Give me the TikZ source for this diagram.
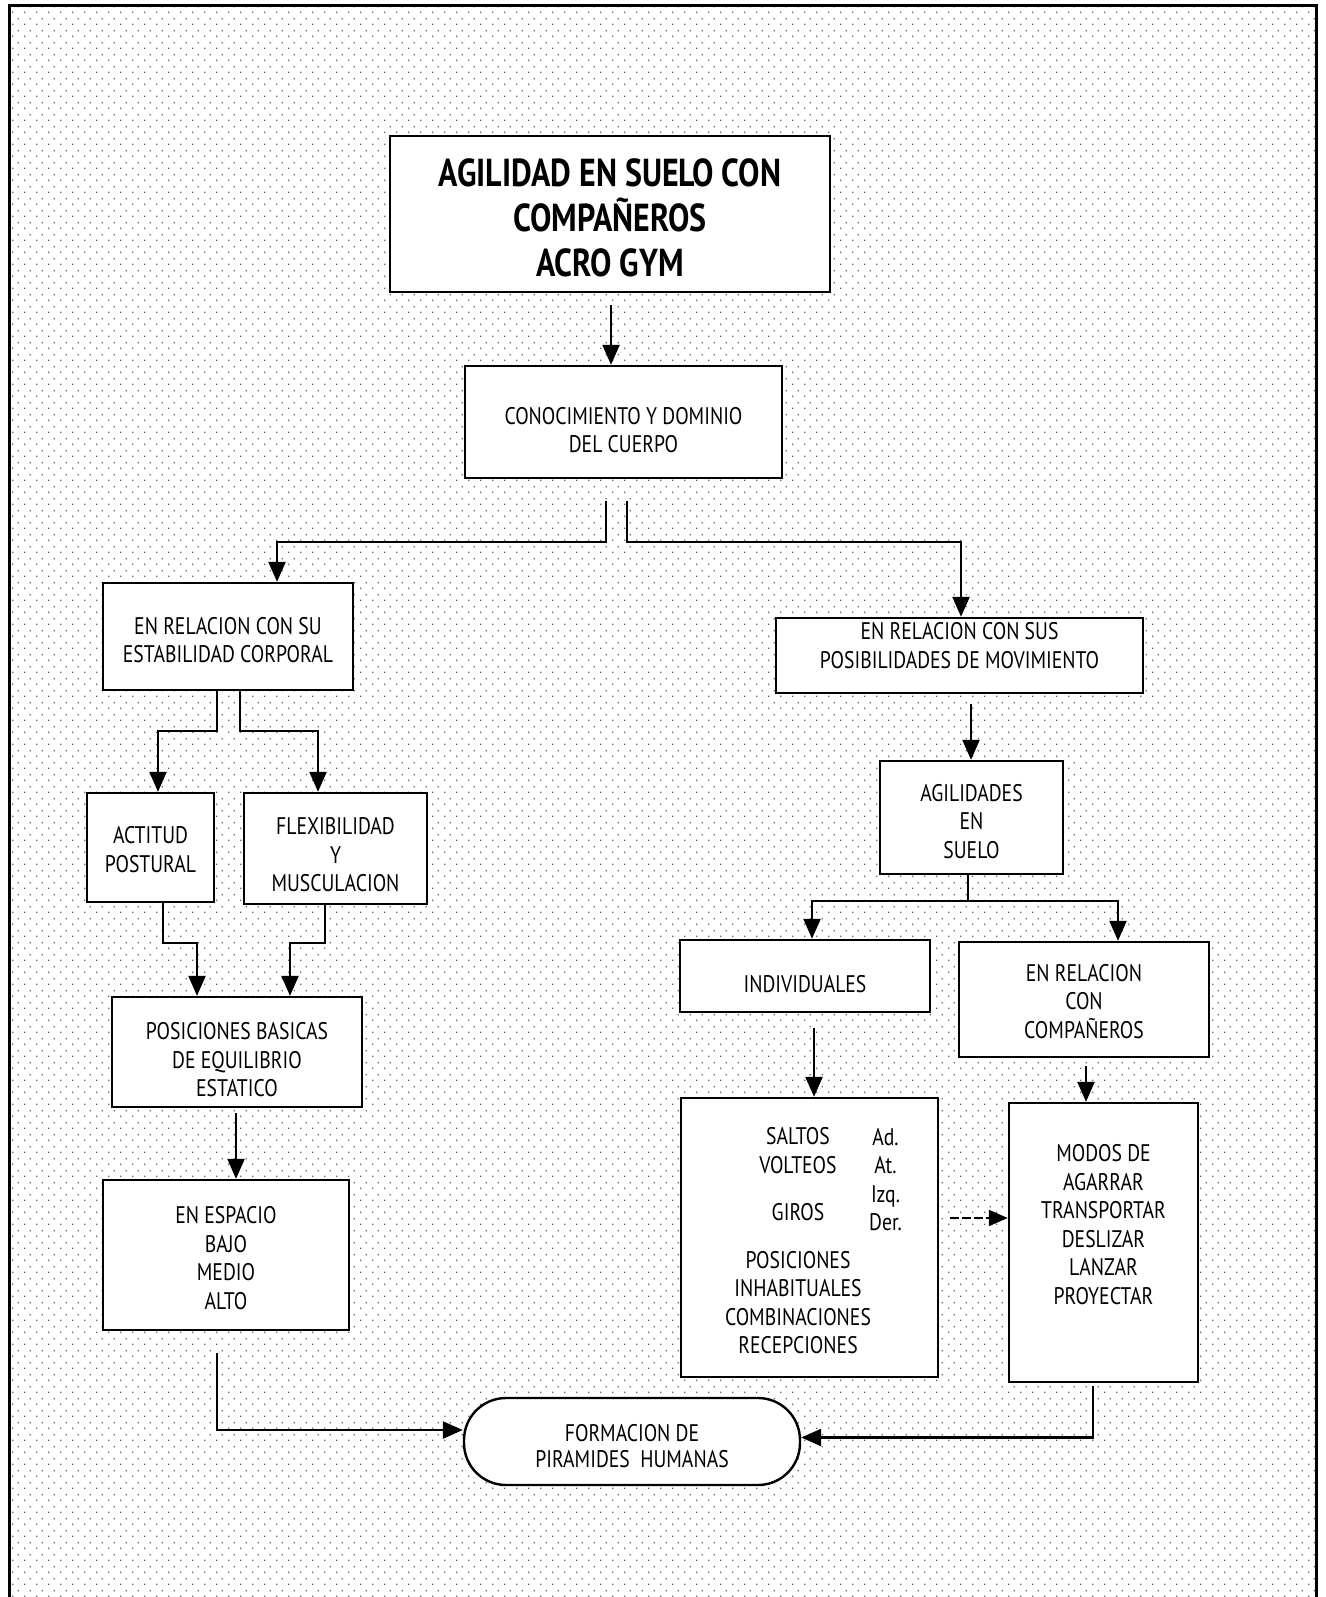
\documentclass[tikz,border=0pt]{standalone}
\usepackage{fontspec}
\setmainfont[FakeStretch=0.82]{PT Sans}
\usetikzlibrary{arrows.meta,patterns.meta,calc}

% sparse stipple used for the page background
\tikzdeclarepattern{
  name=stipple,
  type=uncolored,
  bounding box={(0pt,0pt) and (12pt,12pt)},
  tile size={(12pt,12pt)},
  code={
    \fill (0pt,0pt) rectangle (1.4pt,1.4pt);
    \fill (6pt,6pt) rectangle (7.4pt,7.4pt);
  }
}

\tikzset{
  box/.style={draw, line width=2.4pt, fill=white, inner sep=0pt},
  txt/.style={align=center, inner sep=0pt, font=\fontsize{24}{28.5}\selectfont},
  ttl/.style={align=center, inner sep=0pt, font=\bfseries\fontsize{39}{45}\selectfont},
  tbox/.style n args={4}{box, minimum width=#1, minimum height=#2,
    label={[txt,yshift=#3]center:{#4}}},
  arr/.style={line width=2.4pt, -{Triangle[length=20pt,width=17pt]}},
  link/.style={line width=2.4pt},
}

\begin{document}
\begin{tikzpicture}[x=1pt,y=-1pt]
\useasboundingbox (0,0) rectangle (1325,1597);

% background and frame
\fill[white] (0,0) rectangle (1325,1597);
\fill[pattern=stipple, pattern color=black!60] (9,6) rectangle (1316,1597);
\draw[line width=3pt] (9,1597) -- (9,6) -- (1316,6) -- (1316,1597);

% title box
\node[box, minimum width=440pt, minimum height=156pt,
      label={[ttl,yshift=-4pt]center:{AGILIDAD EN SUELO CON\\COMPAÑEROS\\ACRO GYM}}]
      (top) at (610,214) {};

\node[tbox={317pt}{112pt}{-8pt}{CONOCIMIENTO Y DOMINIO\\DEL CUERPO}] (b2) at (623.5,422) {};

% left branch
\node[tbox={250pt}{107pt}{-3.5pt}{EN RELACION CON SU\\ESTABILIDAD CORPORAL}] (b3) at (228,636.5) {};
\node[tbox={127pt}{109pt}{-2pt}{ACTITUD\\POSTURAL}] (act) at (150.5,847.5) {};
\node[tbox={183pt}{111pt}{-6.5pt}{FLEXIBILIDAD\\Y\\MUSCULACION}] (flex) at (335.5,848.5) {};
\node[tbox={250pt}{110pt}{-8pt}{POSICIONES BASICAS\\DE EQUILIBRIO\\ESTATICO}] (pos) at (237,1052) {};
\node[tbox={246pt}{150pt}{-3pt}{EN ESPACIO\\BAJO\\MEDIO\\ALTO}] (esp) at (226,1255) {};

% right branch
\node[tbox={367pt}{75pt}{10pt}{EN RELACION CON SUS\\POSIBILIDADES DE MOVIMIENTO}] (b4) at (959.5,655.5) {};
\node[tbox={183pt}{113pt}{-4pt}{AGILIDADES\\EN\\SUELO}] (agil) at (971.5,817.5) {};
\node[tbox={250pt}{72pt}{-8pt}{INDIVIDUALES}] (ind) at (805,976) {};
\node[tbox={250pt}{115pt}{-2pt}{EN RELACION\\CON\\COMPAÑEROS}] (comp) at (1084,999.5) {};

\node[box, minimum width=257pt, minimum height=279pt,
      label={[txt,xshift=-11.5pt,yshift=-3.5pt]center:{SALTOS\\VOLTEOS\\[19pt]GIROS\\[19pt]POSICIONES\\INHABITUALES\\COMBINACIONES\\RECEPCIONES}},
      label={[txt,xshift=76pt,yshift=58pt]center:{Ad.\\At.\\Izq.\\Der.}}]
      (salt) at (809.5,1237.5) {};
\node[tbox={189pt}{279pt}{18pt}{MODOS DE\\AGARRAR\\TRANSPORTAR\\DESLIZAR\\LANZAR\\PROYECTAR}] (modos) at (1103.5,1242.5) {};

% goal
\node[box, rounded corners=42pt, minimum width=336pt, minimum height=87pt,
      label={[txt,yshift=-4.5pt,font=\fontsize{24}{26}\selectfont]center:{FORMACION DE\\PIRAMIDES\ \ HUMANAS}}]
      (form) at (632,1441.5) {};

% connectors
\coordinate (t0) at ([xshift=1pt,yshift=-12pt]top.south);
\draw[arr] (t0) -- (t0 |- b2.north);

\draw[arr] ([xshift=-17.5pt,yshift=-22pt]b2.south) -- ++(0,41) -| ([xshift=49pt]b3.north);
\draw[arr] ([xshift=3.5pt,yshift=-22pt]b2.south) -- ++(0,41) -| ([xshift=1.5pt]b4.north);

\draw[arr] ([xshift=-11pt]b3.south) -- ++(0,40) -| ([xshift=7.5pt]act.north);
\draw[arr] ([xshift=12pt]b3.south) -- ++(0,40) -| ([xshift=-17.5pt]flex.north);

\draw[arr] ([xshift=12.5pt]act.south) -- ++(0,40) -| ([xshift=-40pt]pos.north);
\draw[arr] ([xshift=-10.5pt]flex.south) -- ++(0,38) -| ([xshift=53pt]pos.north);

\coordinate (p0) at ([xshift=-1pt,yshift=-5pt]pos.south);
\draw[arr] (p0) -- (p0 |- esp.north);

\coordinate (e0) at ([xshift=-9pt,yshift=-22pt]esp.south);
\coordinate (fl) at ([yshift=11.5pt]form.west);
\draw[arr] (e0) |- (fl);

\coordinate (m0) at ([xshift=-10.5pt,yshift=-3pt]modos.south);
\coordinate (fr) at ([yshift=4pt]form.east);
\draw[arr] (m0) |- (fr);

\coordinate (b40) at ([xshift=11.5pt,yshift=-10pt]b4.south);
\draw[arr] (b40) -- (b40 |- agil.north);

\coordinate (a0) at ([xshift=-3.5pt]agil.south);
\draw[link] (a0) -- ++(0,26) coordinate (a1);
\draw[arr] (a1) -| ([xshift=7pt]ind.north);
\draw[arr] (a1) -| ([xshift=34pt]comp.north);

\coordinate (i0) at ([xshift=9pt,yshift=-15pt]ind.south);
\draw[arr] (i0) -- (i0 |- salt.north);

\coordinate (c0) at ([xshift=2pt,yshift=-8pt]comp.south);
\draw[arr] (c0) -- (c0 |- modos.north);

\coordinate (s0) at ($(salt.east)+(11,-19.5)$);
\draw[line width=2pt, dash pattern=on 9pt off 3pt, -{Triangle[length=19pt,width=16pt]}] (s0) -- (s0 -| modos.west);
\end{tikzpicture}
\end{document}
